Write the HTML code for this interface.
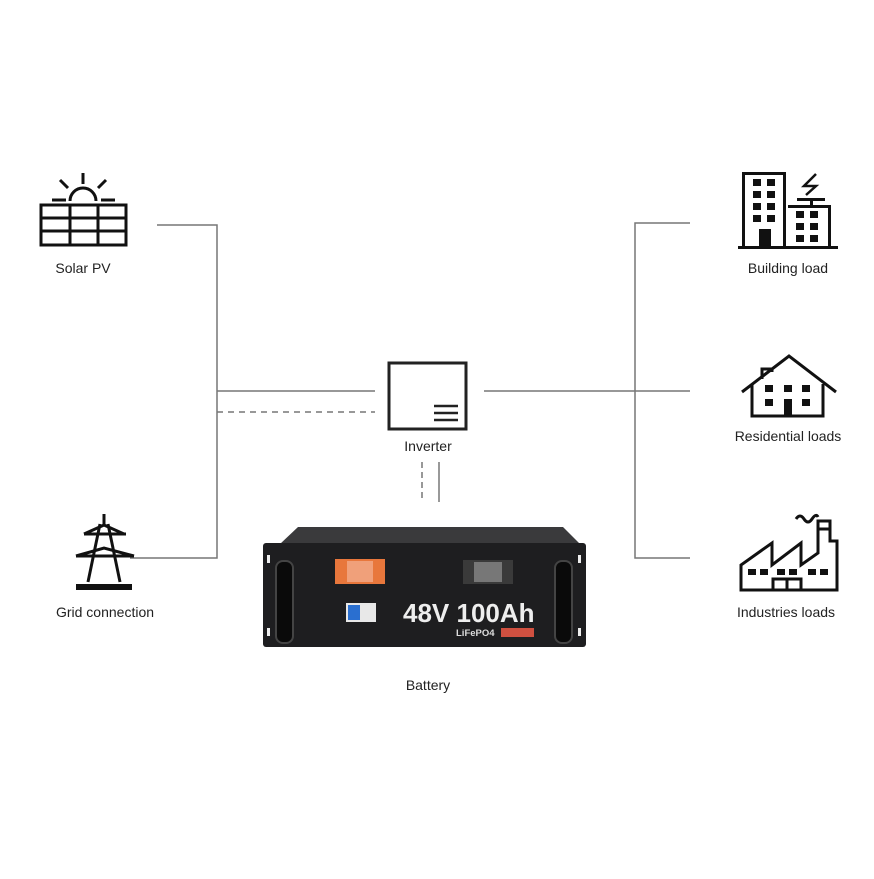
<!DOCTYPE html>
<html><head><style>
body{margin:0;background:#fff;}
svg text{font-family:"Liberation Sans",sans-serif;fill:#222;}
</style></head><body>
<svg width="874" height="874" viewBox="0 0 874 874" xmlns="http://www.w3.org/2000/svg">
<g stroke="#777" stroke-width="1.5" fill="none">
<polyline points="157,225 217,225 217,558 130,558"/>
<line x1="217" y1="391" x2="375" y2="391"/>
<line x1="217" y1="412" x2="375" y2="412" stroke-dasharray="6,5"/>
<line x1="484" y1="391" x2="690" y2="391"/>
<polyline points="690,223 635,223 635,558 690,558"/>
<line x1="422" y1="462" x2="422" y2="502" stroke-dasharray="6,4"/>
<line x1="439" y1="462" x2="439" y2="502"/>
</g>
<rect x="389" y="363" width="77" height="66" fill="none" stroke="#222" stroke-width="3"/>
<g stroke="#222" stroke-width="2.5"><line x1="434" y1="406" x2="458" y2="406"/><line x1="434" y1="413" x2="458" y2="413"/><line x1="434" y1="420" x2="458" y2="420"/></g>
<text x="428" y="451" font-size="14" text-anchor="middle">Inverter</text>
<g stroke="#111" stroke-width="3" fill="none">
<rect x="41" y="205" width="85" height="40"/>
<line x1="41" y1="218" x2="126" y2="218"/><line x1="41" y1="231" x2="126" y2="231"/>
<line x1="70" y1="205" x2="70" y2="245"/><line x1="98" y1="205" x2="98" y2="245"/>
<path d="M70,201 A13,13 0 0 1 96,201"/>
<line x1="52" y1="200" x2="66" y2="200"/><line x1="101" y1="200" x2="115" y2="200"/>
<line x1="83" y1="173" x2="83" y2="184"/><line x1="60" y1="180" x2="68" y2="188"/><line x1="106" y1="180" x2="98" y2="188"/>
</g>
<text x="83" y="273" font-size="14" text-anchor="middle">Solar PV</text>
<g stroke="#111" stroke-width="3" fill="none">
<line x1="104" y1="514" x2="104" y2="526"/>
<path d="M100,524 L88,582 M108,524 L120,582"/>
<line x1="84" y1="534" x2="126" y2="534"/>
<line x1="76" y1="556" x2="134" y2="556"/>
<path d="M84,534 L104,525 L124,534 M76,556 L104,548 L134,556"/>
</g>
<rect x="76" y="584" width="56" height="6" fill="#111"/>
<text x="105" y="617" font-size="14" text-anchor="middle">Grid connection</text>
<g fill="#111">
<rect x="738" y="246" width="100" height="3"/>
<rect x="742" y="172" width="3" height="75"/><rect x="742" y="172" width="44" height="3"/><rect x="783" y="172" width="3" height="75"/>
<rect x="753" y="179" width="8" height="7"/><rect x="767" y="179" width="8" height="7"/>
<rect x="753" y="191" width="8" height="7"/><rect x="767" y="191" width="8" height="7"/>
<rect x="753" y="203" width="8" height="7"/><rect x="767" y="203" width="8" height="7"/>
<rect x="753" y="215" width="8" height="7"/><rect x="767" y="215" width="8" height="7"/>
<rect x="759" y="229" width="12" height="18"/>
<rect x="788" y="205" width="43" height="3"/><rect x="828" y="205" width="3" height="42"/>
<rect x="796" y="211" width="8" height="7"/><rect x="810" y="211" width="8" height="7"/>
<rect x="796" y="223" width="8" height="7"/><rect x="810" y="223" width="8" height="7"/>
<rect x="796" y="235" width="8" height="7"/><rect x="810" y="235" width="8" height="7"/>
<rect x="797" y="198" width="28" height="3"/><rect x="810" y="198" width="3" height="8"/>
</g>
<path d="M816,174 L804,186 L816,186 L806,195" stroke="#111" stroke-width="2.5" fill="none"/>
<text x="788" y="273" font-size="14" text-anchor="middle">Building load</text>
<g stroke="#111" stroke-width="3" fill="none">
<path d="M742,392 L789,356 L836,392"/>
<path d="M752,384 L752,416 L823,416 L823,384"/>
<path d="M762,379 L762,369 L772,369 L772,372"/>
</g>
<g fill="#111">
<rect x="765" y="385" width="8" height="7"/><rect x="784" y="385" width="8" height="7"/><rect x="802" y="385" width="8" height="7"/>
<rect x="765" y="399" width="8" height="7"/><rect x="802" y="399" width="8" height="7"/>
<rect x="784" y="399" width="8" height="17"/>
</g>
<text x="788" y="441" font-size="14" text-anchor="middle">Residential loads</text>
<g stroke="#111" stroke-width="3" fill="none">
<path d="M741,590 L741,565 L772,543 L772,565 L801,543 L801,565 L818,553 L818,521 L830,521 L830,541 L837,541 L837,590 Z"/>
<line x1="818" y1="529" x2="830" y2="529"/>
<path d="M773,590 L773,579 L801,579 L801,590 M787,579 L787,590"/>
<path d="M796,519 q4,-6 8,0 t8,0 t6,-2"/>
</g>
<g fill="#111">
<rect x="748" y="569" width="8" height="6"/><rect x="760" y="569" width="8" height="6"/>
<rect x="777" y="569" width="8" height="6"/><rect x="789" y="569" width="8" height="6"/>
<rect x="808" y="569" width="8" height="6"/><rect x="820" y="569" width="8" height="6"/>
</g>
<text x="786" y="617" font-size="14" text-anchor="middle">Industries loads</text>
<polygon points="280,544 298,527 563,527 580,544" fill="#3a3a3c"/>
<rect x="263" y="543" width="323" height="104" rx="3" fill="#1e1e20"/>
<rect x="276" y="561" width="17" height="82" rx="7" fill="#0a0a0a" stroke="#444" stroke-width="2"/>
<rect x="555" y="561" width="17" height="82" rx="7" fill="#0a0a0a" stroke="#444" stroke-width="2"/>
<rect x="267" y="555" width="3" height="8" fill="#eee"/><rect x="267" y="628" width="3" height="8" fill="#eee"/>
<rect x="578" y="555" width="3" height="8" fill="#eee"/><rect x="578" y="628" width="3" height="8" fill="#eee"/>
<rect x="335" y="559" width="50" height="25" fill="#e8773c"/>
<rect x="347" y="561" width="26" height="21" fill="#f0a07a"/>
<rect x="463" y="560" width="50" height="24" fill="#3a3a3a"/>
<rect x="474" y="562" width="28" height="20" fill="#777"/>
<rect x="346" y="603" width="30" height="19" fill="#e8e8e8"/>
<rect x="348" y="605" width="12" height="15" fill="#2a6fd0"/>
<text x="403" y="622" font-size="26" font-weight="bold" style="fill:#eee">48V 100Ah</text>
<text x="456" y="636" font-size="9.5" font-weight="bold" style="fill:#ddd">LiFePO4</text>
<rect x="501" y="628" width="33" height="9" fill="#d05040"/>
<text x="428" y="690" font-size="14" text-anchor="middle">Battery</text>
</svg>
</body></html>
